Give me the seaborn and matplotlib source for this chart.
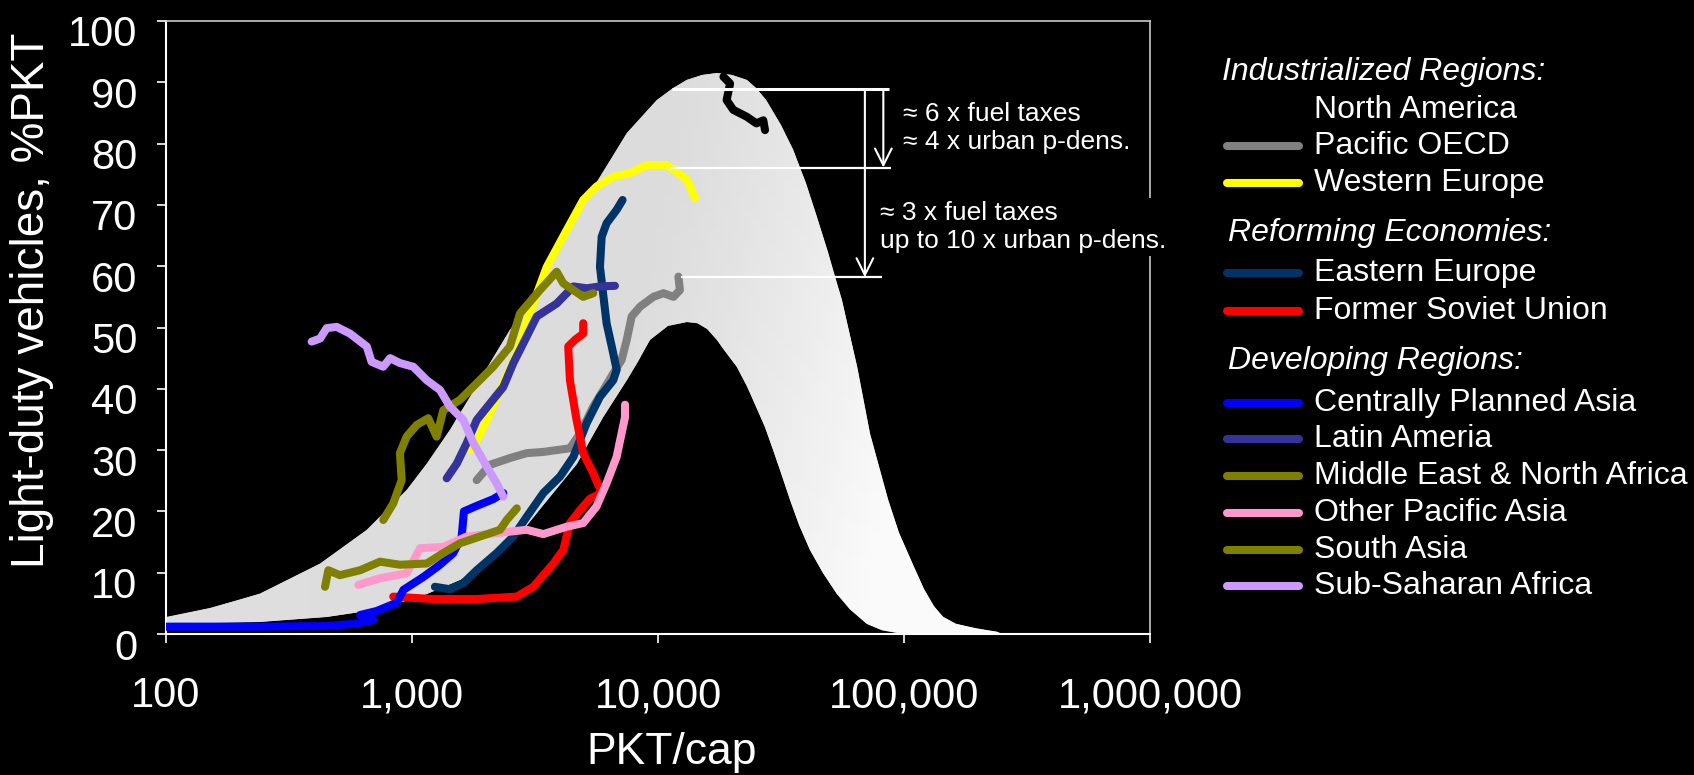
import numpy as np
import pandas as pd
import seaborn as sns
import matplotlib.pyplot as plt
from matplotlib.lines import Line2D
from matplotlib.ticker import NullLocator
from matplotlib.transforms import ScaledTranslation

# ---------------------- Data ----------------------
# grey band (upper and lower envelope), PKT/cap vs %PKT
band_upper_x = [100, 151, 241, 423, 655, 951, 1148, 1426, 1722, 2075, 2500, 2748, 4000, 5623,
                7464, 9886, 11482, 13092, 15136, 17338, 19953, 22909, 25119, 27542, 31623,
                35481, 39811, 44157, 48978, 53211, 55847, 64565, 72778, 86298, 95499,
                109648, 120226, 131826, 144544, 162181, 194984, 238232, 251189]
band_upper_y = [2.7, 4.2, 6.6, 11.5, 17.0, 23.5, 27.8, 33.3, 38.7, 44.2, 49.6, 51.8, 62.6, 73.5,
                81.7, 87.1, 89.0, 90.4, 91.2, 91.5, 91.2, 90.4, 89.0, 87.1, 83.0,
                79.0, 73.6, 68.1, 62.3, 57.2, 54.5, 43.6, 32.7, 21.9, 16.5,
                11.0, 7.4, 4.5, 2.8, 1.7, 0.9, 0.4, 0.0]
band_lower_x = [100, 241, 450, 697, 1079, 1567, 2138, 2838, 3639, 4677, 5998, 7464, 8318, 9268,
                10965, 13092, 14454, 15849, 17338, 18621, 20893, 22909, 25119, 27227, 29444,
                31623, 34434, 37584, 41495, 46774, 53211, 60256, 70469, 81283, 95499, 125893]
band_lower_y = [1.7, 2.0, 2.8, 3.9, 6.1, 8.8, 12.1, 17.0, 22.4, 27.8, 35.4, 41.4, 44.5, 48.0,
                50.3, 50.9, 50.7, 49.8, 48.0, 46.3, 43.6, 40.5, 37.1, 33.7, 30.0,
                26.3, 21.9, 17.7, 13.7, 10.0, 6.6, 4.0, 1.7, 0.6, 0.1, 0.0]

na_x = [18450, 19634, 19011, 20230, 22909, 25119, 26792, 27227]
na_y = [90.9, 89.8, 87.1, 85.5, 84.4, 83.3, 83.8, 82.2]

pao_x = [1832, 2075, 2500, 2924, 3420, 4385, 4819, 5458, 5998, 6577, 7112, 7464, 7816, 8453,
         9572, 10520, 11561, 12274, 12106]
pao_y = [25.1, 27.6, 28.7, 29.5, 29.7, 30.3, 32.7, 37.1, 39.8, 42.5, 44.7, 48.0, 51.8, 53.4,
         55.0, 55.6, 55.0, 56.1, 58.3]

weu_x = [1750, 2014, 2280, 2667, 3020, 3532, 4256, 4966, 5623, 6577, 7691, 8995, 10839, 11912,
         13092, 13709, 14125]
weu_y = [30.0, 34.9, 39.8, 45.8, 52.5, 59.9, 65.9, 70.8, 73.0, 74.6, 75.2, 76.5, 76.5, 75.4,
         74.1, 72.4, 71.1]

eeu_x = [1239, 1426, 1618, 1832, 2208, 2582, 2924, 3420, 4000, 4529, 5129, 5808, 6577, 6792,
         6486, 6180, 5808, 5902, 6180, 6792, 7178]
eeu_y = [7.7, 7.3, 8.3, 10.4, 13.2, 15.9, 19.1, 23.0, 25.7, 28.9, 34.4, 38.7, 41.4, 43.1,
         46.9, 50.7, 59.9, 64.8, 67.0, 69.2, 70.8]

fsu_x = [839, 1222, 1832, 2667, 3112, 3758, 4121, 4385, 4819, 5297, 5902, 5458, 4966, 4667,
         4385, 4315, 4603, 4966, 4966]
fsu_y = [6.1, 5.7, 5.7, 6.1, 7.7, 11.5, 13.7, 18.1, 20.2, 22.1, 23.0, 26.2, 29.5, 34.9,
         41.4, 46.9, 48.0, 49.0, 50.7]

cpa_x = [100, 241, 450, 596, 697, 615, 718, 867, 923, 1112, 1300, 1472, 1592, 1626, 1832,
         2138, 2350]
cpa_y = [1.2, 1.2, 1.3, 1.7, 2.3, 3.1, 3.75, 5.1, 7.2, 9.3, 11.3, 13.2, 15.9, 20.0, 20.9,
         22.0, 23.0]

lam_x = [1384, 1521, 1667, 1832, 2075, 2350, 2582, 2924, 3214, 3873, 4529, 5129, 5808, 6683]
lam_y = [25.4, 27.8, 31.1, 34.9, 37.6, 40.3, 44.2, 48.5, 51.8, 53.9, 56.7, 56.4, 56.7, 56.8]

mea_x = [764, 839, 908, 893, 951, 1045, 1164, 1259, 1340, 1567, 1832, 2138, 2500, 2748, 3311,
         3873, 4121, 4529, 4966, 5458]
mea_y = [18.6, 21.3, 25.1, 29.5, 32.2, 34.1, 35.2, 32.2, 36.5, 38.2, 40.9, 43.6, 46.9, 52.3,
         56.1, 59.1, 57.2, 56.1, 55.0, 55.6]

pas_x = [605, 741, 951, 1079, 1340, 1667, 2138, 2924, 3420, 4256, 4966, 5623, 6180, 6792, 7015,
         7345, 7345]
pas_y = [8.0, 9.1, 9.9, 14.0, 14.2, 15.9, 16.4, 17.0, 16.3, 17.5, 18.1, 20.8, 24.6, 28.9, 31.6,
         35.4, 37.4]

sas_x = [443, 457, 509, 615, 741, 893, 1148, 1340, 1567, 1888, 2280, 2427, 2667]
sas_y = [7.7, 10.4, 9.6, 10.4, 11.8, 11.3, 11.5, 13.2, 14.8, 15.9, 17.0, 18.6, 20.5]

afr_x = [391, 423, 450, 494, 560, 655, 685, 764, 815, 893, 1012, 1148, 1300, 1426, 1618, 1778,
         2014, 2208, 2350]
afr_y = [47.7, 48.2, 49.9, 50.1, 49.0, 46.9, 44.4, 43.6, 45.0, 44.2, 43.6, 41.4, 39.8, 37.1,
         34.9, 31.1, 27.3, 24.6, 22.4]

region_names = ["North America", "Pacific OECD", "Western Europe", "Eastern Europe",
                "Former Soviet Union", "Centrally Planned Asia", "Latin Ameria",
                "Middle East & North Africa", "Other Pacific Asia", "South Asia",
                "Sub-Saharan Africa"]
region_x = [na_x, pao_x, weu_x, eeu_x, fsu_x, cpa_x, lam_x, mea_x, pas_x, sas_x, afr_x]
region_y = [na_y, pao_y, weu_y, eeu_y, fsu_y, cpa_y, lam_y, mea_y, pas_y, sas_y, afr_y]
region_colors = ["#000000", "#808080", "#FFFF00", "#003366", "#FF0000", "#0000FF", "#333399",
                 "#808000", "#FF99CC", "#808000", "#CC99FF"]

group_headers = ["Industrialized Regions:", "Reforming Economies:", "Developing Regions:"]

# annotation levels (%PKT) and their x extents
ref_levels = [88.9, 76.1, 58.2]
ref_x0 = [11376, 11194, 12388]
ref_x1 = [86896, 88308, 81096]
arrow_x = [82414, 69343]
notes = ["\u2248 6 x fuel taxes\n\u2248 4 x urban p-dens.",
         "\u2248 3 x fuel taxes\nup to 10 x urban p-dens."]

x_ticks = [100, 1000, 10000, 100000, 1000000]
x_tick_labels = ["100", "1,000", "10,000", "100,000", "1,000,000"]
y_ticks = list(range(0, 101, 10))

# ---------------------- Style ----------------------
sns.set_theme(style="dark")
plt.rcParams["font.family"] = ["Liberation Sans", "DejaVu Sans"]
plt.rcParams["figure.facecolor"] = "black"
plt.rcParams["axes.facecolor"] = "black"
plt.rcParams["savefig.facecolor"] = "black"
plt.rcParams["text.color"] = "white"

W, H = 1694, 775
fig = plt.figure(figsize=(W / 100, H / 100), dpi=100)
ax = fig.add_axes([166 / W, 1 - 634 / H, (1150 - 166) / W, (634 - 21) / H])
ax.set_xscale("log")
ax.set_xlim(100, 1e6)
ax.set_ylim(0, 100)

# ---------------------- Grey band ----------------------
poly_x = band_upper_x + band_lower_x[::-1]
poly_y = band_upper_y + band_lower_y[::-1]
band = ax.fill(poly_x, poly_y, color="#dedede", lw=0, zorder=1)[0]

# light gradient inside the band (darker upper-left, near white lower-right)
gx = np.logspace(2, 5.6, 120)
gy = np.linspace(0, 95, 70)
lc = np.log10(np.sqrt(gx[:-1] * gx[1:])) - 2
yc = (gy[:-1] + gy[1:]) / 2
LL, YY = np.meshgrid(lc, yc)
t = np.clip((LL - 1.9) / 1.2 + (50 - YY) / 220, 0, 1)
shade = 0.862 + 0.118 * t ** 1.2 + 0.01 * np.clip((1.2 - LL) / 1.2, 0, 1)
mesh = ax.pcolormesh(gx, gy, shade, cmap="gray", vmin=0, vmax=1, shading="flat",
                     zorder=1.1, antialiased=False)
mesh.set_clip_path(band)

# ---------------------- Regional trajectories ----------------------
for name, xs, ys, col in zip(region_names, region_x, region_y, region_colors):
    d = pd.DataFrame({"pkt": xs, "share": ys})
    sns.lineplot(data=d, x="pkt", y="share", sort=False, estimator=None, color=col,
                 lw=5.8, solid_capstyle="round", solid_joinstyle="round", ax=ax,
                 legend=False, zorder=3)

# ---------------------- Annotation ----------------------
for lev, x0, x1, w in zip(ref_levels, ref_x0, ref_x1, [2.2, 1.6, 1.6]):
    ax.plot([x0, x1], [lev, lev], color="white", lw=w, zorder=4, solid_capstyle="butt")

for ax_x, y_end in zip(arrow_x, [ref_levels[1], ref_levels[2]]):
    ax.annotate("", xy=(ax_x, y_end), xytext=(ax_x, ref_levels[0]),
                arrowprops=dict(arrowstyle="->,head_length=0.6,head_width=0.3",
                                color="white", lw=1.5, shrinkA=0, shrinkB=0,
                                mutation_scale=20),
                zorder=4)

ax.text(99300, 82.6, notes[0], color="white", fontsize=19, ha="left", va="center",
        linespacing=1.2, zorder=5)
ax.text(80000, 66.4, notes[1], color="white", fontsize=19, ha="left", va="center",
        linespacing=1.2, zorder=5,
        bbox=dict(facecolor="black", edgecolor="none", pad=2))

# ---------------------- Axes ----------------------
ax.set_xticks(x_ticks)
ax.set_xticklabels(x_tick_labels)
ax.xaxis.set_minor_locator(NullLocator())
ax.set_yticks(y_ticks)
ax.set_yticklabels([str(v) for v in y_ticks])
ax.tick_params(axis="x", colors="white", labelsize=30, length=6.5, width=1.2,
               direction="out", pad=24, bottom=True)
ax.tick_params(axis="y", colors="white", labelsize=30, length=6.5, width=1.2,
               direction="out", pad=14, left=True)
shift = ScaledTranslation(0, -10 / 100, fig.dpi_scale_trans)
for lbl in ax.get_yticklabels():
    lbl.set_transform(lbl.get_transform() + shift)
ax.set_xlabel("")
ax.set_ylabel("")
ax.grid(False)
for side in ["left", "bottom"]:
    ax.spines[side].set_color("white")
    ax.spines[side].set_linewidth(1.5)
for side in ["top", "right"]:
    ax.spines[side].set_color("#c8c8c8")
    ax.spines[side].set_linewidth(1.2)
    ax.spines[side].set_visible(True)

fig.text(672 / W, 1 - 764 / H, "PKT/cap", color="white", fontsize=32,
         ha="center", va="baseline")
fig.text(32.5 / W, 1 - 300 / H, "Light-duty vehicles, %PKT", color="white", fontsize=33,
         ha="center", va="center", rotation=90)

# ---------------------- Legend (drawn by hand) ----------------------
header_pos = [(1221.7, 72), (1228.3, 233), (1228.3, 361)]
row_y = [109.6, 146, 183, 273, 311, 402.5, 439, 475.7, 513, 550, 586.4]
for txt, (hx, hy) in zip(group_headers, header_pos):
    fig.text(hx / W, 1 - hy / H, txt, color="white", fontsize=23, style="italic",
             ha="left", va="center")
for name, col, ry in zip(region_names, region_colors, row_y):
    fig.add_artist(Line2D([1227 / W, 1299 / W], [1 - ry / H, 1 - ry / H],
                          transform=fig.transFigure, color=col, lw=5.8,
                          solid_capstyle="round"))
    fig.text(1314 / W, 1 - ry / H, name, color="white", fontsize=23,
             ha="left", va="center")

fig.savefig("out.png", dpi=100, facecolor="black")
